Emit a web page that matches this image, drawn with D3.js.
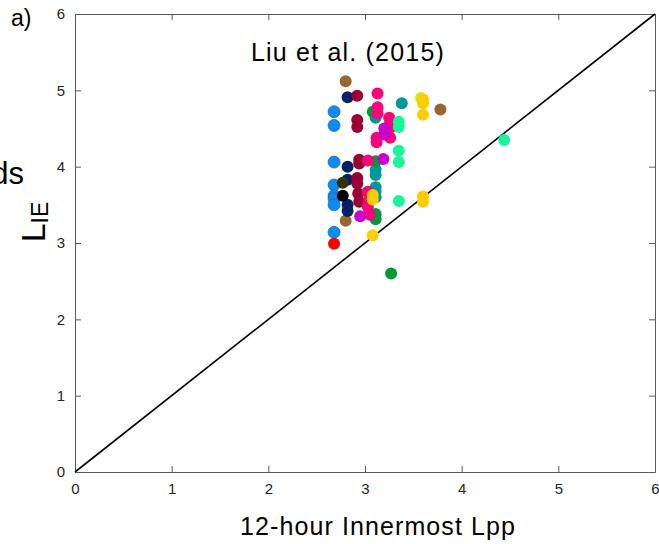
<!DOCTYPE html>
<html lang="en">
<head>
    <meta charset="UTF-8">
    <script src="https://cdn.jsdelivr.net/npm/d3@7"></script>
    <title>Liu et al. (2015) - LIE vs 12-hour Innermost Lpp</title>
    <style>
        html,
        body {
            margin: 0px;
            padding: 0px;
            background-color: #ffffff;
            font-family: "Liberation Sans", Arial, sans-serif;
        }
        svg text {
            font-family: "Liberation Sans", Arial, sans-serif;
        }
    </style>
</head>
<body>
    <div id="chart"></div>

    <script>
        // one pair of arrays per event colour: Lpp (x) and LIE (y)
        const blueLpp = [2.68, 2.68, 2.68, 2.68, 2.68, 2.68, 2.68, 2.68];
        const blueLie = [4.72, 4.54, 4.06, 3.76, 3.62, 3.58, 3.50, 3.14];
        const redLpp = [2.68];
        const redLie = [2.99];
        const brownLpp = [2.80, 2.80, 3.78];
        const brownLie = [5.12, 3.29, 4.75];
        const navyLpp = [2.82, 2.82, 2.82, 2.82, 2.82];
        const navyLie = [4.91, 4.00, 3.83, 3.50, 3.42];
        const oliveLpp = [2.77];
        const oliveLie = [3.79];
        const blackLpp = [2.77];
        const blackLie = [3.62];
        const crimsonLpp = [2.92, 2.92, 2.92, 2.94, 2.94, 2.92, 2.92, 2.93, 2.94];
        const crimsonLie = [4.93, 4.61, 4.52, 4.09, 4.04, 3.85, 3.78, 3.65, 3.54];
        const tealLpp = [3.11, 3.38, 3.11, 3.11, 3.11, 3.11, 3.11];
        const tealLie = [4.64, 4.83, 3.96, 3.89, 3.73, 3.67, 3.60];
        const greenLpp = [3.08, 3.11, 3.11, 3.11, 3.27];
        const greenLie = [4.72, 4.07, 3.38, 3.31, 2.60];
        const pinkLpp = [3.13, 3.13, 3.13, 3.25, 3.26, 3.26, 3.26, 3.12, 3.12, 3.03, 3.03, 3.04, 3.03, 3.05];
        const pinkLie = [4.96, 4.78, 4.70, 4.64, 4.57, 4.51, 4.38, 4.38, 4.32, 4.08, 3.67, 3.56, 3.47, 3.37];
        const purpleLpp = [3.20, 3.20, 3.19, 2.95];
        const purpleLie = [4.50, 4.42, 4.10, 3.35];
        const mintLpp = [3.35, 3.35, 3.35, 3.35, 3.35, 4.44];
        const mintLie = [4.59, 4.52, 4.21, 4.06, 3.55, 4.35];
        const limeLpp = [3.58];
        const limeLie = [4.90];
        const goldLpp = [3.60, 3.60, 3.60, 3.60, 3.60, 3.08, 3.08, 3.08];
        const goldLie = [4.88, 4.83, 4.68, 3.61, 3.54, 3.63, 3.57, 3.10];

        const ticks = [0, 1, 2, 3, 4, 5, 6];

        const series = [
            { lpp: blueLpp, lie: blueLie, color: '#0a8cf5', edge: '#2d5fa8' },
            { lpp: redLpp, lie: redLie, color: '#ff0000' },
            { lpp: brownLpp, lie: brownLie, color: '#996633' },
            { lpp: navyLpp, lie: navyLie, color: '#002266' },
            { lpp: oliveLpp, lie: oliveLie, color: '#333300' },
            { lpp: blackLpp, lie: blackLie, color: '#000000' },
            { lpp: crimsonLpp, lie: crimsonLie, color: '#990033' },
            { lpp: tealLpp, lie: tealLie, color: '#009999' },
            { lpp: greenLpp, lie: greenLie, color: '#009933' },
            { lpp: pinkLpp, lie: pinkLie, color: '#f5067a' },
            { lpp: purpleLpp, lie: purpleLie, color: '#cc00cc' },
            { lpp: mintLpp, lie: mintLie, color: '#1af59a' },
            { lpp: limeLpp, lie: limeLie, color: '#ccee00' },
            { lpp: goldLpp, lie: goldLie, color: '#ffcc00' }
        ];

        let width = 659;
        let height = 544;

        let margin = {
            top: 14,
            bottom: 72,
            left: 75,
            right: 4
        }

        let svg = d3.select('#chart').append('svg').attr('width', width).attr('height', height);

        let x = d3.scaleLinear().domain([0, 6]).range([margin.left, width - margin.right]);
        let y = d3.scaleLinear().domain([0, 6]).range([height - margin.bottom, margin.top]);

        const axisColor = '#5a5a5a';
        const labelColor = '#262626';

        // box with inward ticks, matlab style
        function styleAxis(g) {
            g.select('.domain').attr('stroke', axisColor);
            g.selectAll('.tick line').attr('stroke', axisColor);
            g.selectAll('.tick text').attr('fill', labelColor).attr('font-size', 15);
        }

        svg.append('g')
            .attr('transform', `translate(0,${y(0)})`)
            .call(d3.axisBottom(x).tickValues(ticks).tickFormat(d3.format('d'))
                .tickSize(-6).tickSizeOuter(0).tickPadding(11))
            .call(styleAxis);
        svg.append('g')
            .attr('transform', `translate(0,${y(6)})`)
            .call(d3.axisTop(x).tickValues(ticks).tickSize(-6).tickSizeOuter(0).tickFormat(''))
            .call(styleAxis);
        svg.append('g')
            .attr('transform', `translate(${x(0)},0)`)
            .call(d3.axisLeft(y).tickValues(ticks).tickFormat(d3.format('d'))
                .tickSize(-6).tickSizeOuter(0).tickPadding(10))
            .call(styleAxis);
        svg.append('g')
            .attr('transform', `translate(${x(6)},0)`)
            .call(d3.axisRight(y).tickValues(ticks).tickSize(-6).tickSizeOuter(0).tickFormat(''))
            .call(styleAxis);

        // 1:1 line
        svg.append('line')
            .attr('x1', x(0)).attr('y1', y(0))
            .attr('x2', x(6)).attr('y2', y(6))
            .attr('stroke', '#000')
            .attr('stroke-width', 1.6);

        series.forEach((s) => {
            svg.append('g')
                .selectAll('circle')
                .data(s.lpp.map((v, i) => [v, s.lie[i]]))
                .join('circle')
                .attr('cx', (d) => x(d[0]))
                .attr('cy', (d) => y(d[1]))
                .attr('r', 6)
                .attr('fill', s.color)
                .attr('stroke', s.edge || 'none')
                .attr('stroke-width', 0.8);
        });

        svg.append('text')
            .attr('x', 348).attr('y', 61)
            .attr('text-anchor', 'middle')
            .attr('font-size', 25)
            .attr('letter-spacing', 1.2)
            .attr('fill', '#000')
            .text('Liu et al. (2015)');

        svg.append('text')
            .attr('x', 378).attr('y', 535)
            .attr('text-anchor', 'middle')
            .attr('font-size', 25)
            .attr('letter-spacing', 1.1)
            .attr('fill', '#000')
            .text('12-hour Innermost Lpp');

        let ylab = svg.append('text')
            .attr('transform', 'translate(45,222) rotate(-90)')
            .attr('text-anchor', 'middle')
            .attr('fill', '#000');
        ylab.append('tspan').attr('font-size', 34).text('L');
        ylab.append('tspan').attr('font-size', 23).attr('dy', 3).text('IE');

        svg.append('text')
            .attr('x', 24).attr('y', 184)
            .attr('text-anchor', 'end')
            .attr('font-size', 31)
            .attr('fill', '#000')
            .text('ds');

        svg.append('text')
            .attr('x', 11).attr('y', 26)
            .attr('font-size', 23)
            .attr('fill', '#000')
            .text('a)');
    </script>
</body>
</html>
